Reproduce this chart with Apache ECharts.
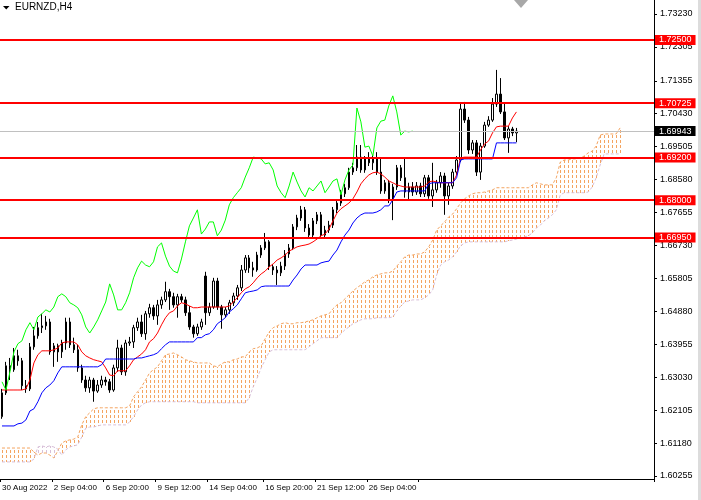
<!DOCTYPE html>
<html><head><meta charset="utf-8">
<script src="https://cdn.jsdelivr.net/npm/echarts@6/dist/echarts.min.js"></script>
<style>html,body{margin:0;padding:0;background:#fff}#c{width:701px;height:500px}</style>
</head><body><div id="c"></div>
<script>
const symbolName = 'EURNZD,H4';
const tickLabels = ['30 Aug 2022','2 Sep 04:00','6 Sep 20:00','9 Sep 12:00','14 Sep 04:00','16 Sep 20:00','21 Sep 12:00','26 Sep 04:00','28 Sep 20:00'];
const tickIndex = [0,13,26,39,52,66,79,92,105];
const slotCount = 164;
const yTicks = [1.73230,1.72305,1.71355,1.70430,1.69505,1.68580,1.67655,1.66730,1.65805,1.64880,1.63955,1.63030,1.62105,1.61180,1.60255];
const levels = [1.72500,1.70725,1.69200,1.68000,1.66950];
const lastPrice = 1.69943;

const openP = [
1.6192,1.6259,1.6335,1.6324,1.6363,1.6349,1.6279,1.6270,1.6388,1.6419,
1.6442,1.6447,1.6458,1.6374,1.6391,1.6374,1.6399,1.6458,1.6394,1.6380,
1.6329,1.6295,1.6273,1.6295,1.6264,1.6281,1.6295,1.6290,1.6267,1.6329,
1.6385,1.6318,1.6399,1.6402,1.6442,1.6458,1.6425,1.6481,1.6498,1.6475,
1.6506,1.6520,1.6543,1.6529,1.6506,1.6529,1.6520,1.6484,1.6444,1.6425,
1.6444,1.6587,1.6484,1.6500,1.6573,1.6500,1.6478,1.6492,1.6512,1.6531,
1.6554,1.6604,1.6638,1.6610,1.6604,1.6646,1.6666,1.6683,1.6613,1.6604,
1.6596,1.6615,1.6649,1.6666,1.6725,1.6750,1.6773,1.6722,1.6702,1.6742,
1.6759,1.6702,1.6716,1.6730,1.6773,1.6792,1.6818,1.6835,1.6879,1.6891,
1.6921,1.6885,1.6916,1.6905,1.6919,1.6879,1.6826,1.6849,1.6801,1.6837,
1.6891,1.6863,1.6823,1.6837,1.6823,1.6840,1.6818,1.6863,1.6812,1.6829,
1.6849,1.6868,1.6812,1.6840,1.6879,1.6913,1.7056,1.7025,1.6941,1.6961,
1.6879,1.6952,1.7011,1.7025,1.7070,1.7098,1.7048,1.6975,1.7000,1.6989];
const closeP = [
1.6259,1.6335,1.6324,1.6363,1.6349,1.6279,1.6270,1.6388,1.6419,1.6442,
1.6447,1.6458,1.6374,1.6391,1.6374,1.6399,1.6458,1.6394,1.6380,1.6329,
1.6295,1.6273,1.6295,1.6264,1.6281,1.6295,1.6290,1.6267,1.6329,1.6385,
1.6318,1.6399,1.6402,1.6442,1.6458,1.6425,1.6481,1.6498,1.6475,1.6506,
1.6520,1.6543,1.6529,1.6506,1.6529,1.6520,1.6484,1.6444,1.6425,1.6444,
1.6458,1.6484,1.6500,1.6573,1.6500,1.6478,1.6492,1.6512,1.6531,1.6554,
1.6604,1.6638,1.6610,1.6604,1.6646,1.6666,1.6683,1.6613,1.6604,1.6596,
1.6615,1.6649,1.6666,1.6725,1.6750,1.6773,1.6722,1.6702,1.6742,1.6759,
1.6702,1.6716,1.6730,1.6773,1.6792,1.6818,1.6835,1.6879,1.6891,1.6921,
1.6885,1.6916,1.6905,1.6919,1.6879,1.6826,1.6849,1.6801,1.6837,1.6891,
1.6863,1.6823,1.6837,1.6823,1.6840,1.6818,1.6863,1.6812,1.6829,1.6849,
1.6868,1.6812,1.6840,1.6879,1.6913,1.7056,1.7025,1.6941,1.6961,1.6879,
1.6952,1.7011,1.7025,1.7070,1.7098,1.7048,1.6975,1.7000,1.6989,1.6994];
const highP = [
1.6270,1.6346,1.6357,1.6385,1.6380,1.6357,1.6295,1.6399,1.6444,1.6458,
1.6481,1.6475,1.6467,1.6399,1.6397,1.6408,1.6470,1.6470,1.6414,1.6394,
1.6338,1.6307,1.6304,1.6301,1.6295,1.6307,1.6304,1.6298,1.6338,1.6408,
1.6394,1.6408,1.6416,1.6450,1.6470,1.6478,1.6489,1.6509,1.6506,1.6520,
1.6529,1.6571,1.6551,1.6540,1.6537,1.6537,1.6529,1.6503,1.6450,1.6453,
1.6467,1.6599,1.6512,1.6582,1.6582,1.6506,1.6500,1.6520,1.6540,1.6562,
1.6618,1.6646,1.6646,1.6627,1.6655,1.6674,1.6708,1.6688,1.6621,1.6615,
1.6627,1.6660,1.6677,1.6733,1.6759,1.6784,1.6781,1.6733,1.6750,1.6767,
1.6767,1.6728,1.6742,1.6781,1.6801,1.6829,1.6846,1.6891,1.6905,1.6955,
1.6955,1.6924,1.6935,1.6927,1.6935,1.6919,1.6857,1.6857,1.6846,1.6899,
1.6899,1.6919,1.6849,1.6851,1.6851,1.6849,1.6871,1.6871,1.6905,1.6857,
1.6879,1.6877,1.6849,1.6888,1.6924,1.7073,1.7076,1.7034,1.6969,1.6969,
1.6961,1.7020,1.7036,1.7087,1.7166,1.7143,1.7073,1.7008,1.7006,1.7003];
const lowP = [
1.6186,1.6253,1.6295,1.6318,1.6335,1.6267,1.6259,1.6264,1.6380,1.6411,
1.6427,1.6436,1.6366,1.6332,1.6346,1.6357,1.6380,1.6385,1.6371,1.6318,
1.6287,1.6262,1.6259,1.6234,1.6259,1.6273,1.6279,1.6259,1.6262,1.6318,
1.6309,1.6307,1.6391,1.6385,1.6433,1.6416,1.6408,1.6470,1.6464,1.6450,
1.6495,1.6514,1.6492,1.6498,1.6470,1.6512,1.6475,1.6436,1.6414,1.6419,
1.6436,1.6450,1.6475,1.6495,1.6492,1.6439,1.6470,1.6481,1.6503,1.6520,
1.6545,1.6596,1.6596,1.6585,1.6599,1.6638,1.6660,1.6604,1.6590,1.6562,
1.6587,1.6604,1.6638,1.6660,1.6716,1.6742,1.6711,1.6694,1.6694,1.6733,
1.6694,1.6694,1.6708,1.6722,1.6764,1.6784,1.6809,1.6829,1.6871,1.6882,
1.6877,1.6877,1.6896,1.6885,1.6871,1.6818,1.6818,1.6792,1.6744,1.6829,
1.6854,1.6807,1.6801,1.6812,1.6815,1.6809,1.6809,1.6804,1.6781,1.6821,
1.6835,1.6759,1.6787,1.6832,1.6871,1.6907,1.7017,1.6930,1.6930,1.6868,
1.6857,1.6947,1.7006,1.7020,1.7062,1.7042,1.6969,1.6933,1.6980,1.6963];

const tenkan = [
1.6267,1.6267,1.6267,1.6267,1.6267,1.6267,1.6270,1.6295,1.6343,1.6366,
1.6377,1.6377,1.6377,1.6380,1.6385,1.6399,1.6402,1.6402,1.6402,1.6394,
1.6374,1.6363,1.6357,1.6352,1.6349,1.6346,1.6329,1.6309,1.6307,1.6321,
1.6321,1.6321,1.6335,1.6352,1.6360,1.6368,1.6380,1.6402,1.6411,1.6427,
1.6450,1.6470,1.6484,1.6489,1.6503,1.6512,1.6509,1.6503,1.6498,1.6498,
1.6500,1.6500,1.6500,1.6500,1.6500,1.6500,1.6500,1.6503,1.6514,1.6526,
1.6540,1.6551,1.6557,1.6568,1.6582,1.6593,1.6601,1.6613,1.6621,1.6632,
1.6638,1.6646,1.6657,1.6663,1.6669,1.6672,1.6674,1.6677,1.6683,1.6691,
1.6700,1.6705,1.6719,1.6742,1.6764,1.6776,1.6784,1.6792,1.6804,1.6823,
1.6846,1.6860,1.6871,1.6877,1.6879,1.6874,1.6865,1.6854,1.6849,1.6843,
1.6840,1.6837,1.6837,1.6837,1.6837,1.6837,1.6840,1.6851,1.6854,1.6851,
1.6849,1.6849,1.6849,1.6849,1.6871,1.6919,1.6921,1.6921,1.6921,1.6921,
1.6941,1.6958,1.6966,1.6989,1.7006,1.7008,1.7008,1.7008,1.7031,1.7048];
const kijun = [
1.6166,1.6166,1.6166,1.6166,1.6172,1.6174,1.6183,1.6208,1.6214,1.6234,
1.6259,1.6273,1.6281,1.6293,1.6315,1.6332,1.6332,1.6332,1.6332,1.6332,
1.6332,1.6332,1.6332,1.6332,1.6332,1.6338,1.6354,1.6354,1.6354,1.6354,
1.6354,1.6354,1.6354,1.6354,1.6357,1.6357,1.6360,1.6363,1.6366,1.6371,
1.6383,1.6394,1.6402,1.6402,1.6402,1.6402,1.6402,1.6402,1.6402,1.6414,
1.6414,1.6422,1.6425,1.6436,1.6453,1.6461,1.6470,1.6486,1.6495,1.6506,
1.6523,1.6540,1.6543,1.6545,1.6548,1.6557,1.6559,1.6559,1.6559,1.6559,
1.6559,1.6559,1.6559,1.6576,1.6590,1.6607,1.6618,1.6618,1.6618,1.6618,
1.6624,1.6627,1.6629,1.6646,1.6660,1.6683,1.6702,1.6716,1.6736,1.6750,
1.6759,1.6764,1.6764,1.6764,1.6767,1.6773,1.6784,1.6784,1.6801,1.6823,
1.6826,1.6826,1.6826,1.6826,1.6826,1.6826,1.6826,1.6846,1.6849,1.6849,
1.6849,1.6849,1.6849,1.6849,1.6863,1.6913,1.6916,1.6916,1.6916,1.6916,
1.6916,1.6916,1.6916,1.6916,1.6961,1.6961,1.6961,1.6961,1.6961,1.6961];
const chikou = [
1.6290,1.6267,1.6318,1.6374,1.6397,1.6405,1.6436,1.6456,1.6436,1.6472,
1.6481,1.6492,1.6486,1.6500,1.6529,1.6537,1.6529,1.6512,1.6506,1.6498,
1.6478,1.6444,1.6427,1.6444,1.6464,1.6489,1.6514,1.6565,1.6534,1.6492,
1.6492,1.6512,1.6540,1.6582,1.6610,1.6629,1.6618,1.6613,1.6627,1.6669,
1.6680,1.6643,1.6615,1.6601,1.6596,1.6635,1.6683,1.6728,1.6750,1.6773,
1.6705,1.6719,1.6739,1.6739,1.6700,1.6716,1.6744,1.6787,1.6807,1.6821,
1.6835,1.6865,1.6891,1.6921,1.6919,1.6916,1.6902,1.6905,1.6885,1.6840,
1.6821,1.6807,1.6840,1.6879,1.6851,1.6826,1.6809,1.6835,1.6826,1.6840,
1.6854,1.6821,1.6837,1.6854,1.6860,1.6815,1.6857,1.6885,1.6899,1.7059,
1.7020,1.6949,1.6952,1.6924,1.7003,1.7022,1.7025,1.7065,1.7093,1.7048,
1.6983,1.6994,1.6992,1.6994];
const spanA = [
1.6104,1.6104,1.6104,1.6104,1.6104,1.6104,1.6104,1.6104,1.6093,1.6084,
1.6090,1.6090,1.6084,1.6076,1.6096,1.6118,1.6124,1.6127,1.6129,1.6135,
1.6169,1.6192,1.6203,1.6214,1.6217,1.6217,1.6217,1.6217,1.6217,1.6217,
1.6217,1.6217,1.6222,1.6248,1.6262,1.6276,1.6295,1.6315,1.6324,1.6332,
1.6349,1.6366,1.6368,1.6371,1.6366,1.6360,1.6352,1.6349,1.6346,1.6343,
1.6343,1.6343,1.6343,1.6335,1.6332,1.6340,1.6346,1.6346,1.6352,1.6354,
1.6360,1.6360,1.6374,1.6383,1.6385,1.6391,1.6411,1.6430,1.6442,1.6447,
1.6453,1.6456,1.6453,1.6453,1.6456,1.6456,1.6458,1.6461,1.6464,1.6470,
1.6475,1.6478,1.6481,1.6495,1.6506,1.6512,1.6523,1.6534,1.6545,1.6554,
1.6562,1.6571,1.6576,1.6585,1.6590,1.6593,1.6596,1.6596,1.6601,1.6615,
1.6627,1.6641,1.6646,1.6646,1.6649,1.6649,1.6655,1.6669,1.6688,1.6716,
1.6728,1.6739,1.6753,1.6761,1.6776,1.6792,1.6804,1.6812,1.6818,1.6821,
1.6821,1.6823,1.6826,1.6829,1.6835,1.6835,1.6835,1.6835,1.6835,1.6835,
1.6835,1.6835,1.6835,1.6843,1.6849,1.6846,1.6843,1.6843,1.6843,1.6863,
1.6907,1.6913,1.6913,1.6916,1.6916,1.6919,1.6924,1.6933,1.6938,1.6952,
1.6983,1.6986,1.6986,1.6986,1.6986,1.7003];
const spanB = [
1.6065,1.6065,1.6065,1.6065,1.6065,1.6065,1.6065,1.6065,1.6073,1.6107,
1.6110,1.6107,1.6110,1.6107,1.6101,1.6084,1.6099,1.6107,1.6110,1.6113,
1.6135,1.6160,1.6163,1.6163,1.6166,1.6169,1.6169,1.6169,1.6169,1.6169,
1.6169,1.6169,1.6177,1.6192,1.6211,1.6225,1.6231,1.6234,1.6234,1.6234,
1.6234,1.6234,1.6234,1.6234,1.6234,1.6234,1.6234,1.6234,1.6234,1.6231,
1.6231,1.6231,1.6231,1.6231,1.6231,1.6231,1.6231,1.6231,1.6231,1.6231,
1.6231,1.6231,1.6245,1.6276,1.6301,1.6329,1.6352,1.6374,1.6380,1.6380,
1.6380,1.6380,1.6380,1.6380,1.6380,1.6380,1.6380,1.6388,1.6397,1.6405,
1.6414,1.6414,1.6414,1.6414,1.6414,1.6425,1.6436,1.6444,1.6453,1.6458,
1.6464,1.6467,1.6467,1.6467,1.6470,1.6470,1.6470,1.6470,1.6472,1.6489,
1.6503,1.6514,1.6517,1.6520,1.6520,1.6520,1.6526,1.6534,1.6548,1.6590,
1.6618,1.6627,1.6632,1.6641,1.6655,1.6672,1.6680,1.6683,1.6683,1.6683,
1.6683,1.6683,1.6683,1.6683,1.6683,1.6683,1.6683,1.6686,1.6688,1.6691,
1.6694,1.6697,1.6700,1.6708,1.6722,1.6730,1.6742,1.6750,1.6759,1.6773,
1.6815,1.6821,1.6821,1.6821,1.6821,1.6821,1.6821,1.6823,1.6837,1.6863,
1.6899,1.6930,1.6930,1.6930,1.6930,1.6930];

const FONT = '"Liberation Sans", Arial, sans-serif';
const SANDY = '#F4A460', THISTLE = '#D8BFD8';
const categories = [];
for (let i = 0; i < slotCount; i++) {
  const k = tickIndex.indexOf(i);
  categories.push(k >= 0 ? tickLabels[k] : 'bar ' + i);
}
const candles = openP.map((o, i) => [o, closeP[i], lowP[i], highP[i]]);
const cloud = spanA.map((a, i) => [i, a, spanB[i]]);
const showTick = (i) => tickIndex.indexOf(i) >= 0;

const chart = echarts.init(document.getElementById('c'), null, {renderer: 'canvas'});
const priceLabel = (bg) => ({
  show: true, position: 'end', distance: 1,
  formatter: (p) => Number(p.value).toFixed(5),
  color: '#fff', backgroundColor: bg, fontSize: 9, fontFamily: FONT,
  padding: [1, 4, 0, 4], lineHeight: 9
});
// hatch of the kumo: short vertical dashes on a fixed 5px row grid between span A and span B
function kumoHatch(params, api) {
  const i = api.value(0), a = api.value(1), b = api.value(2);
  const pa = api.coord([i, a]), pb = api.coord([i, b]);
  const x = Math.round(pa[0]);
  const top = Math.min(pa[1], pb[1]), bot = Math.max(pa[1], pb[1]);
  const fill = a >= b ? SANDY : THISTLE;
  const children = [];
  for (let y = Math.floor(top / 5) * 5; y < bot; y += 5) {
    const y0 = Math.max(y, Math.round(top)), y1 = Math.min(y + 3, Math.round(bot));
    if (y1 > y0) children.push({type: 'rect', silent: true,
      shape: {x: x, y: y0, width: 1, height: y1 - y0}, style: {fill: fill}});
  }
  return {type: 'group', children: children};
}
chart.setOption({
  animation: false,
  backgroundColor: '#fff',
  title: {text: symbolName, left: 15, top: 2, padding: 0,
    textStyle: {fontSize: 10, fontWeight: 'normal', color: '#000', fontFamily: FONT}},
  graphic: [
    {type: 'polygon', shape: {points: [[3, 6], [9.5, 6], [6.25, 9.5]]}, style: {fill: '#000'}},
    {type: 'polygon', shape: {points: [[514, 0], [528, 0], [521, 8]]}, style: {fill: '#a8a8a8'}},
    {type: 'rect', shape: {x: 698, y: 0, width: 3, height: 500}, style: {fill: '#dcdcdc'}}
  ],
  grid: {left: 0, top: 0, width: 654, height: 479, containLabel: false, outerBoundsMode: 'none'},
  xAxis: {
    type: 'category', data: categories, boundaryGap: true,
    axisLine: {lineStyle: {color: '#000', width: 1}},
    axisTick: {show: true, interval: showTick, length: 3, lineStyle: {color: '#000'}},
    axisLabel: {interval: showTick, align: 'left', fontSize: 8, color: '#000', margin: 5,
      fontFamily: FONT, showMaxLabel: false},
    splitLine: {show: false}
  },
  yAxis: {
    type: 'value', position: 'right', min: 1.60170, max: 1.73623,
    axisLine: {show: true, lineStyle: {color: '#000'}},
    axisTick: {show: true, customValues: yTicks, length: 3, lineStyle: {color: '#000'}},
    axisLabel: {customValues: yTicks, formatter: (v) => v.toFixed(5), fontSize: 9,
      color: '#000', margin: 6, fontFamily: FONT},
    splitLine: {show: false}
  },
  series: [
    {type: 'custom', name: 'Kumo', data: cloud, z: 1, silent: true, color: SANDY,
      encode: {x: 0, y: [1, 2]}, renderItem: kumoHatch},
    {type: 'line', name: 'Senkou A', data: spanA, symbol: 'none', z: 1, silent: true,
      color: SANDY, lineStyle: {color: SANDY, width: 1, type: [3, 2]}},
    {type: 'line', name: 'Senkou B', data: spanB, symbol: 'none', z: 1, silent: true,
      color: THISTLE, lineStyle: {color: THISTLE, width: 1, type: [3, 2]}},
    {type: 'line', name: 'Bid', data: [], z: 1, silent: true,
      markLine: {symbol: 'none', silent: true, precision: 5,
        data: [{yAxis: lastPrice, lineStyle: {color: '#c0c0c0', width: 1, type: 'solid'},
          label: priceLabel('#000')}]}},
    {type: 'candlestick', name: symbolName, data: candles, barWidth: 2, z: 2,
      itemStyle: {color: '#fff', color0: '#000', borderColor: '#000', borderColor0: '#000', borderWidth: 1}},
    {type: 'line', name: 'Tenkan-sen', data: tenkan, symbol: 'none', z: 3, silent: true,
      lineStyle: {color: '#ff0000', width: 1}},
    {type: 'line', name: 'Kijun-sen', data: kijun, symbol: 'none', z: 3, silent: true,
      lineStyle: {color: '#0000ff', width: 1}},
    {type: 'line', name: 'Chikou Span', data: chikou, symbol: 'none', z: 3, silent: true,
      lineStyle: {color: '#00ff00', width: 1}},
    {type: 'line', name: 'Levels', data: [], z: 5, silent: true,
      markLine: {symbol: 'none', silent: true, precision: 5,
        data: levels.map((v) => ({yAxis: v, lineStyle: {color: '#ff0000', width: 2, type: 'solid'},
          label: priceLabel('#ff0000')}))}}
  ]
});
</script></body></html>
